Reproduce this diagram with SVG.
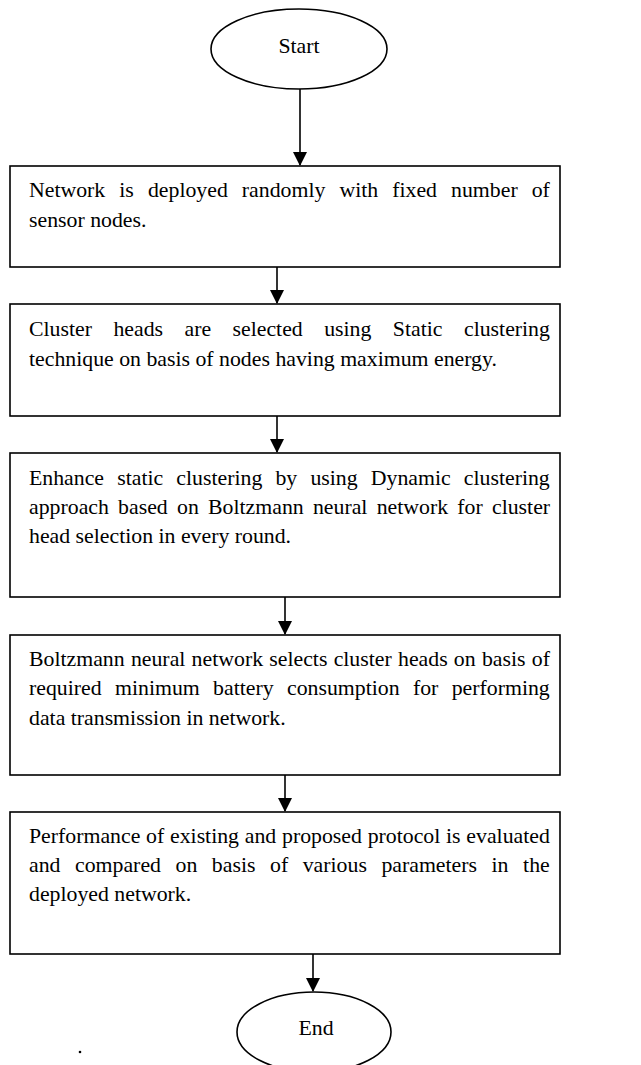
<svg xmlns="http://www.w3.org/2000/svg" width="641" height="1065" viewBox="0 0 641 1065">
<defs>
<style>
.box{fill:#fff;stroke:#000;stroke-width:1.6}
.oval{fill:#fff;stroke:#000;stroke-width:1.6}
.t{font-family:"Liberation Serif","Times New Roman",serif;font-size:21.8px;fill:#000}
.c{text-anchor:middle}
.ln{stroke:#000;stroke-width:1.6;fill:none}
</style>
<marker id="ah" markerWidth="14" markerHeight="14" refX="13" refY="7" orient="auto" markerUnits="userSpaceOnUse">
<path d="M0,0 L14,7 L0,14 Z" fill="#000"/>
</marker>
</defs>
<rect width="641" height="1065" fill="#fff"/>
<g id="connectors">
<line class="ln" x1="300" y1="89" x2="300" y2="165" marker-end="url(#ah)"/>
<line class="ln" x1="277" y1="267" x2="277" y2="303" marker-end="url(#ah)"/>
<line class="ln" x1="277" y1="416" x2="277" y2="452" marker-end="url(#ah)"/>
<line class="ln" x1="285" y1="597" x2="285" y2="634" marker-end="url(#ah)"/>
<line class="ln" x1="285" y1="775" x2="285" y2="811" marker-end="url(#ah)"/>
<line class="ln" x1="313" y1="954" x2="313" y2="991" marker-end="url(#ah)"/>
</g>
<g id="start">
<ellipse class="oval" cx="299" cy="49" rx="88" ry="40"/>
<text class="t c" x="299" y="53">Start</text>
</g>
<g id="step1">
<rect class="box" x="10" y="166" width="550" height="101"/>
<text class="t" x="29" y="197" word-spacing="8.6">Network is deployed randomly with fixed number of</text>
<text class="t" x="29" y="227">sensor nodes.</text>
</g>
<g id="step2">
<rect class="box" x="10" y="304" width="550" height="112"/>
<text class="t" x="29" y="336" word-spacing="16">Cluster heads are selected using Static clustering</text>
<text class="t" x="29" y="366">technique on basis of nodes having maximum energy.</text>
</g>
<g id="step3">
<rect class="box" x="10" y="453" width="550" height="144"/>
<text class="t" x="29" y="485" word-spacing="7.7">Enhance static clustering by using Dynamic clustering</text>
<text class="t" x="29" y="514" word-spacing="3.8">approach based on Boltzmann neural network for cluster</text>
<text class="t" x="29" y="543">head selection in every round.</text>
</g>
<g id="step4">
<rect class="box" x="10" y="635" width="550" height="140"/>
<text class="t" x="29" y="666" word-spacing="0.8">Boltzmann neural network selects cluster heads on basis of</text>
<text class="t" x="29" y="695" word-spacing="7.9">required minimum battery consumption for performing</text>
<text class="t" x="29" y="725">data transmission in network.</text>
</g>
<g id="step5">
<rect class="box" x="10" y="812" width="550" height="142"/>
<text class="t" x="29" y="843" word-spacing="0.3">Performance of existing and proposed protocol is evaluated</text>
<text class="t" x="29" y="872" word-spacing="9.1">and compared on basis of various parameters in the</text>
<text class="t" x="29" y="901">deployed network.</text>
</g>
<g id="end">
<ellipse class="oval" cx="314" cy="1032" rx="77" ry="40"/>
<text class="t c" x="316" y="1035">End</text>
</g>
<circle cx="80" cy="1052" r="1.3" fill="#000"/>
</svg>
